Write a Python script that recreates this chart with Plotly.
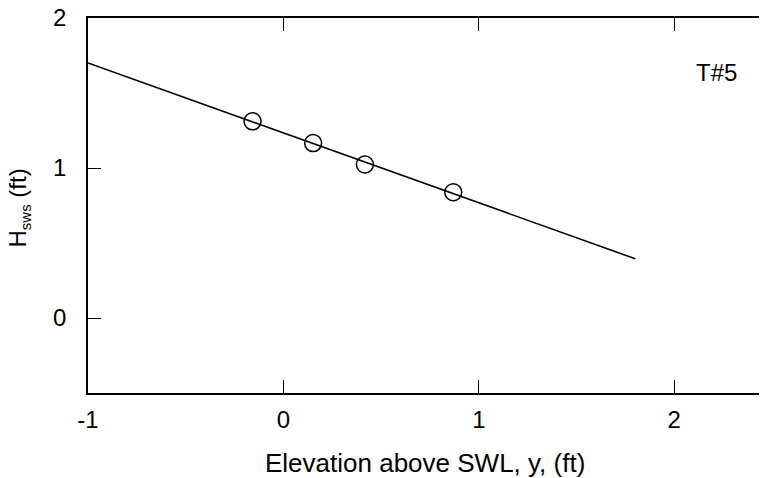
import plotly.graph_objects as go

# Data
elev = [-0.158, 0.152, 0.417, 0.869]
hsws = [1.311, 1.166, 1.023, 0.838]
fit_x = [-1.0, 1.80]
fit_y = [1.70, 0.395]
x_ticks = [-1, 0, 1, 2]
x_ticktext = ["-1", "0", "1", "2"]
y_ticks = [0, 1, 2]
label_text = "T#5"
x_title = "Elevation above SWL, y, (ft)"
y_title = "H<sub><span style='font-size:15px'>sws</span></sub> (ft)"

FONT = "Liberation Sans, Arial, sans-serif"

fig = go.Figure()
fig.add_trace(go.Scatter(x=fit_x, y=fit_y, mode="lines",
                         line=dict(color="black", width=1.6), showlegend=False))
fig.add_trace(go.Scatter(x=elev, y=hsws, mode="markers",
                         marker=dict(symbol="circle-open", size=17,
                                     color="black", line=dict(width=1.5)),
                         showlegend=False))

fig.add_annotation(x=2.217, y=1.64, text=label_text, showarrow=False,
                   font=dict(size=24, color="black", family=FONT))
# axis titles
fig.add_annotation(x=0.5, y=0, xref="paper", yref="paper", text=x_title,
                   showarrow=False, xanchor="center", yanchor="middle",
                   xshift=-5, yshift=-70, font=dict(size=26, color="black", family=FONT))
fig.add_annotation(x=0, y=0.5, xref="paper", yref="paper", text=y_title,
                   showarrow=False, xanchor="center", yanchor="middle", textangle=-90,
                   xshift=-70, yshift=-3, font=dict(size=24, color="black", family=FONT))

fig.update_layout(
    width=764, height=478,
    margin=dict(l=80, r=0, t=10, b=93, autoexpand=False),
    paper_bgcolor="white", plot_bgcolor="white",
    font=dict(family=FONT, size=24, color="black"),
    xaxis=dict(range=[-1, 2.5], tickvals=x_ticks, ticktext=x_ticktext,
               ticks="inside", ticklen=13,
               tickwidth=1.2, tickcolor="black", showline=True, linecolor="black",
               linewidth=1.5, mirror="ticks", showgrid=False, zeroline=False,
               automargin=False, ticklabelstandoff=4, ticklabeloverflow="allow",
               tickfont=dict(size=24)),
    yaxis=dict(range=[-0.5, 2], tickvals=y_ticks, ticks="inside", ticklen=13,
               tickwidth=1.2, tickcolor="black", showline=True, linecolor="black",
               linewidth=1.5, mirror="ticks", showgrid=False, zeroline=False,
               automargin=False, ticklabelstandoff=15, ticklabeloverflow="allow",
               tickfont=dict(size=24)),
)

fig.write_html("out.html")
